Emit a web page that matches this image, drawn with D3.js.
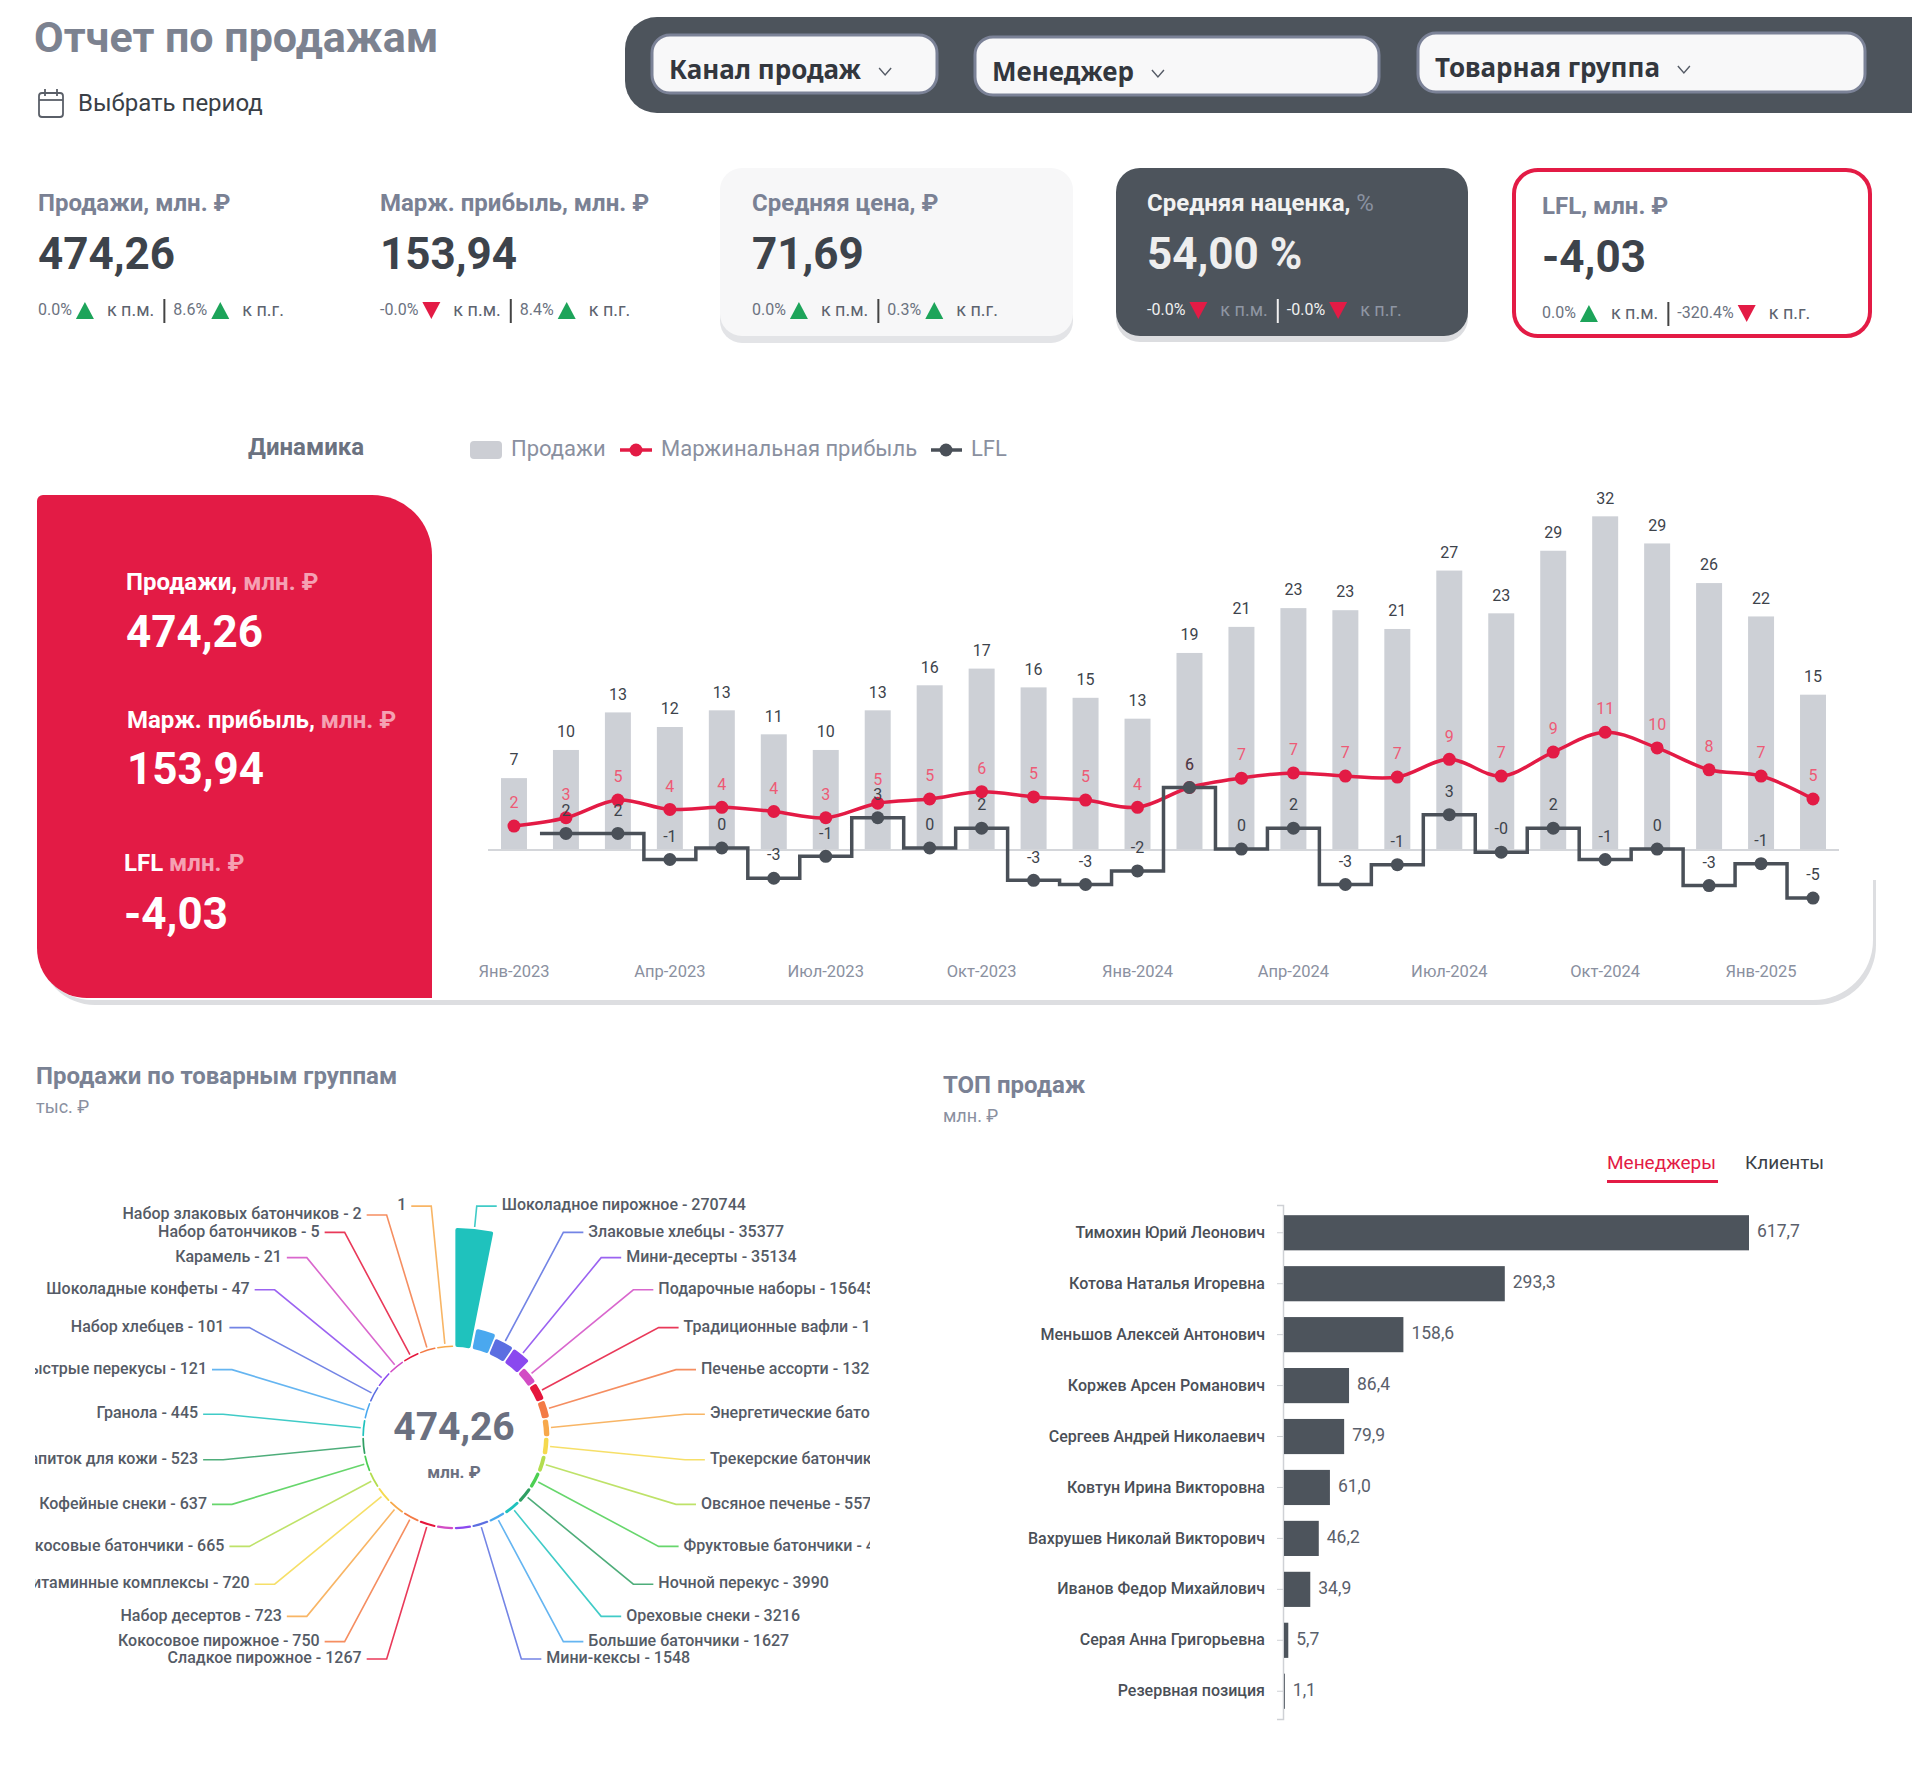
<!DOCTYPE html>
<html>
<head>
<meta charset="utf-8">
<script src="https://cdn.jsdelivr.net/npm/d3@7"></script>
<style>
  body { margin: 0; background: #fff; }
  svg { display: block; font-family: Roboto, sans-serif; }
</style>
</head>
<body>
<svg id="page" width="1920" height="1769"></svg>
<script>
// ---- data ----
var filterLabels = ["Канал продаж", "Менеджер", "Товарная группа"];

var kpiLabels = ["Продажи, млн. ₽", "Марж. прибыль, млн. ₽", "Средняя цена, ₽", "Средняя наценка,", "LFL, млн. ₽"];
var kpiValues = ["474,26", "153,94", "71,69", "54,00 %", "-4,03"];
var kpiMoM = ["0.0%", "-0.0%", "0.0%", "-0.0%", "0.0%"];
var kpiMoMDir = ["up", "down", "up", "down", "up"];
var kpiYoY = ["8.6%", "8.4%", "0.3%", "-0.0%", "-320.4%"];
var kpiYoYDir = ["up", "up", "up", "down", "down"];

var months = ["Янв-2023","Фев-2023","Мар-2023","Апр-2023","Май-2023","Июн-2023","Июл-2023","Авг-2023","Сен-2023","Окт-2023","Ноя-2023","Дек-2023",
              "Янв-2024","Фев-2024","Мар-2024","Апр-2024","Май-2024","Июн-2024","Июл-2024","Авг-2024","Сен-2024","Окт-2024","Ноя-2024","Дек-2024",
              "Янв-2025","Фев-2025"];
var sales  = [6.9, 9.6, 13.2, 11.8, 13.4, 11.1, 9.6, 13.4, 15.8, 17.4, 15.6, 14.6, 12.6, 18.9, 21.4, 23.2, 23.0, 21.2, 26.8, 22.7, 28.7, 32.0, 29.4, 25.6, 22.4, 14.9];
var margin = [2.3, 3.1, 4.8, 3.9, 4.1, 3.7, 3.1, 4.5, 4.9, 5.6, 5.1, 4.8, 4.1, 6.0, 6.9, 7.4, 7.1, 7.0, 8.7, 7.1, 9.4, 11.3, 9.8, 7.7, 7.1, 4.9];
var lfl    = [null, 1.6, 1.6, -0.9, 0.2, -2.7, -0.6, 3.1, 0.2, 2.1, -2.9, -3.3, -2.0, 6.0, 0.1, 2.1, -3.3, -1.4, 3.4, -0.2, 2.1, -0.9, 0.1, -3.4, -1.3, -4.6];

var groupNames = ["Шоколадное пирожное", "Протеиновые батончики", "Злаковые хлебцы", "Мини-десерты", "Подарочные наборы",
                  "Традиционные вафли", "Печенье ассорти", "Энергетические батончики", "Трекерские батончики", "Овсяное печенье",
                  "Фруктовые батончики", "Ночной перекус", "Ореховые снеки", "Большие батончики", "Мини-кексы",
                  "Мюсли", "Крекеры", "Сладкое пирожное", "Кокосовое пирожное", "Набор десертов",
                  "Витаминные комплексы", "Кокосовые батончики", "Кофейные снеки", "Напиток для кожи", "Гранола",
                  "Быстрые перекусы", "Набор хлебцев", "Шоколадные конфеты", "Карамель", "Набор батончиков",
                  "Набор злаковых батончиков", ""];
var groupValues = [270744, 43800, 35377, 35134, 15645, 14380, 13240, 9000, 7000, 5573,
                   4500, 3990, 3216, 1627, 1548, 1740, 1718, 1267, 750, 723,
                   720, 665, 637, 523, 445, 121, 101, 47, 21, 5, 2, 1];
var hiddenGroupLabels = [1, 15, 16];
var groupPalette = ["#1fc2bd", "#4aa8ef", "#5b6ee1", "#8a48ef", "#d24cc4", "#e5163c",
                    "#f37a45", "#f7a84a", "#f5d94e", "#b3dd4f", "#4ccf52", "#2f9f63"];

var managers = ["Тимохин Юрий Леонович", "Котова Наталья Игоревна", "Меньшов Алексей Антонович", "Коржев Арсен Романович",
                "Сергеев Андрей Николаевич", "Ковтун Ирина Викторовна", "Вахрушев Николай Викторович", "Иванов Федор Михайлович",
                "Серая Анна Григорьевна", "Резервная позиция"];
var managerSales = [617.7, 293.3, 158.6, 86.4, 79.9, 61.0, 46.2, 34.9, 5.7, 1.1];

// ---- helpers ----
var RED = "#e31b45", DARK = "#4d545c", GREEN = "#1da45a";
var svg = d3.select("#page");

function roundRect(x, y, w, h, r) { // r = [tl, tr, br, bl]
  return "M" + (x + r[0]) + "," + y +
    "H" + (x + w - r[1]) + (r[1] ? "A" + r[1] + "," + r[1] + " 0 0 1 " + (x + w) + "," + (y + r[1]) : "") +
    "V" + (y + h - r[2]) + (r[2] ? "A" + r[2] + "," + r[2] + " 0 0 1 " + (x + w - r[2]) + "," + (y + h) : "") +
    "H" + (x + r[3]) + (r[3] ? "A" + r[3] + "," + r[3] + " 0 0 1 " + x + "," + (y + h - r[3]) : "") +
    "V" + (y + r[0]) + (r[0] ? "A" + r[0] + "," + r[0] + " 0 0 1 " + (x + r[0]) + "," + y : "") + "Z";
}

function txt(g, x, y, s, size, color, weight) {
  return g.append("text").attr("x", x).attr("y", y).attr("dominant-baseline", "middle")
    .attr("font-size", size).attr("fill", color).attr("font-weight", weight || 400).text(s);
}

function roundLabel(v) {
  return (v < 0 ? "-" : "") + Math.round(Math.abs(v));
}

// ---- header ----
txt(svg, 34, 41, "Отчет по продажам", 43, "#7c8290", 700);

var cal = svg.append("g").attr("fill", "none").attr("stroke", "#5a5f68").attr("stroke-width", 1.8);
cal.append("rect").attr("x", 39).attr("y", 93).attr("width", 24).attr("height", 24).attr("rx", 3);
cal.append("line").attr("x1", 39).attr("x2", 63).attr("y1", 100).attr("y2", 100);
cal.append("line").attr("x1", 45).attr("x2", 45).attr("y1", 89).attr("y2", 96);
cal.append("line").attr("x1", 57).attr("x2", 57).attr("y1", 89).attr("y2", 96);
txt(svg, 78, 105, "Выбрать период", 24, "#3a3f47");

// filter bar
svg.append("path").attr("d", roundRect(625, 17, 1287, 96, [32, 0, 0, 32])).attr("fill", DARK);
var filterBoxes = [[652, 35, 285, 58], [975, 37, 404, 58], [1418, 33, 447, 59]];
filterLabels.forEach(function (lab, i) {
  var b = filterBoxes[i];
  svg.append("rect").attr("x", b[0]).attr("y", b[1]).attr("width", b[2]).attr("height", b[3]).attr("rx", 18)
    .attr("fill", "#f8f8f9").attr("stroke", "#7b8297").attr("stroke-width", 3);
  var t = txt(svg, b[0] + 17, b[1] + 37, lab, 26, "#33373e", 700).attr("font-family", "'Noto Sans', sans-serif");
  var cx = b[0] + 17 + t.node().getComputedTextLength() + 18;
  var cy = b[1] + 37;
  svg.append("path").attr("d", "M" + cx + "," + (cy - 4) + "L" + (cx + 6) + "," + (cy + 3) + "L" + (cx + 12) + "," + (cy - 4))
    .attr("fill", "none").attr("stroke", "#555b66").attr("stroke-width", 1.4);
});

// ---- KPI cards ----
svg.append("path").attr("d", roundRect(720, 175, 353, 168, [22, 22, 22, 22])).attr("fill", "#e3e4e7");
svg.append("path").attr("d", roundRect(720, 168, 353, 168, [22, 22, 22, 22])).attr("fill", "#f7f7f8");
svg.append("path").attr("d", roundRect(1116, 174, 352, 168, [24, 24, 24, 24])).attr("fill", "#dcdde0");
svg.append("path").attr("d", roundRect(1116, 168, 352, 168, [24, 24, 24, 24])).attr("fill", DARK);
svg.append("path").attr("d", roundRect(1514, 170, 356, 166, [24, 24, 24, 24])).attr("fill", "#fff")
  .attr("stroke", RED).attr("stroke-width", 4);

var kpiX = [38, 380, 752, 1147, 1542];
var kpiY = [0, 0, 0, 0, 3];

function triangle(g, cx, cy, dir) {
  var d = dir === "up"
    ? "M" + (cx - 9) + "," + (cy + 8) + "L" + cx + "," + (cy - 9) + "L" + (cx + 9) + "," + (cy + 8) + "Z"
    : "M" + (cx - 9) + "," + (cy - 9) + "L" + cx + "," + (cy + 8) + "L" + (cx + 9) + "," + (cy - 9) + "Z";
  g.append("path").attr("d", d).attr("fill", dir === "up" ? GREEN : RED);
}

kpiLabels.forEach(function (lab, i) {
  var dark = i === 3;
  var x0 = kpiX[i], dy = kpiY[i];
  var g = svg.append("g");
  var l = txt(g, x0, 205 + dy, lab, 24, dark ? "#f2f2f2" : "#7a8194", 700);
  if (dark) l.append("tspan").attr("fill", "#8a91a0").attr("font-weight", 400).text(" %");
  txt(g, x0, 257 + dy, kpiValues[i], 44, dark ? "#eeeeee" : "#3d434b", 700);

  var pctColor = dark ? "#f0f0f0" : "#6b7280";
  var subColor = dark ? "#8f96a3" : "#5d636e";
  var cx = x0, cy = 311 + dy;
  var parts = [
    { t: kpiMoM[i], s: 16, c: pctColor }, { tri: kpiMoMDir[i] }, { t: "к п.м.", s: 18, c: subColor },
    { sep: true },
    { t: kpiYoY[i], s: 16, c: pctColor }, { tri: kpiYoYDir[i] }, { t: "к п.г.", s: 18, c: subColor }
  ];
  parts.forEach(function (p) {
    if (p.tri) {
      triangle(g, cx + 13, cy, p.tri);
      cx += 35;
    } else if (p.sep) {
      g.append("line").attr("x1", cx + 1).attr("x2", cx + 1).attr("y1", cy - 12).attr("y2", cy + 12)
        .attr("stroke", dark ? "#f0f0f0" : "#444").attr("stroke-width", 2);
      cx += 10;
    } else {
      var t = txt(g, cx, cy, p.t, p.s, p.c);
      cx += t.node().getComputedTextLength() + (p.s === 18 ? 9 : 0);
    }
  });
});

// ---- Dynamics chart ----
txt(svg, 248, 449, "Динамика", 24, "#6b7280", 700);
var leg = svg.append("g");
leg.append("rect").attr("x", 470).attr("y", 441).attr("width", 32).attr("height", 18).attr("rx", 4).attr("fill", "#ccced4");
txt(leg, 511, 450, "Продажи", 22, "#8a90a0");
leg.append("line").attr("x1", 620).attr("x2", 652).attr("y1", 450).attr("y2", 450).attr("stroke", RED).attr("stroke-width", 3.5);
leg.append("circle").attr("cx", 636).attr("cy", 450).attr("r", 6.5).attr("fill", RED);
txt(leg, 661, 450, "Маржинальная прибыль", 22, "#8a90a0");
leg.append("line").attr("x1", 931).attr("x2", 962).attr("y1", 450).attr("y2", 450).attr("stroke", "#4a5058").attr("stroke-width", 3.5);
leg.append("circle").attr("cx", 946).attr("cy", 450).attr("r", 6.5).attr("fill", "#4a5058");
txt(leg, 971, 450, "LFL", 22, "#8a90a0");

// card + shadow
svg.append("path").attr("d", roundRect(40, 880, 1836, 125, [0, 0, 60, 55])).attr("fill", "#dddee1");
svg.append("path").attr("d", roundRect(37, 495, 1836, 505, [0, 0, 60, 55])).attr("fill", "#fff");
svg.append("path").attr("d", roundRect(37, 495, 395, 503, [6, 60, 0, 50])).attr("fill", RED);

var red = svg.append("g");
txt(red, 126, 584, "Продажи,", 24, "#fff", 700).append("tspan").attr("fill", "#f5a1b3").text(" млн. ₽");
txt(red, 126, 635, "474,26", 44, "#fff", 700);
txt(red, 127, 722, "Марж. прибыль,", 24, "#fff", 700).append("tspan").attr("fill", "#f5a1b3").text(" млн. ₽");
txt(red, 127, 772, "153,94", 44, "#fff", 700);
txt(red, 124, 865, "LFL", 24, "#fff", 700).append("tspan").attr("fill", "#f5a1b3").text(" млн. ₽");
txt(red, 124, 917, "-4,03", 44, "#fff", 700);

var x = d3.scaleBand().domain(months).range([488, 1839]).paddingInner(0.5).paddingOuter(0.25);
var y = d3.scaleLinear().domain([-10, 36]).range([954.4, 474.6]);
var bw = x.bandwidth();
var cxm = function (m) { return x(m) + bw / 2; };

var chart = svg.append("g");

chart.append("g").selectAll("text").data(months.filter(function (m, i) { return i % 3 === 0; })).join("text")
  .attr("x", cxm).attr("y", 973).attr("text-anchor", "middle").attr("dominant-baseline", "middle")
  .attr("font-size", 16.5).attr("fill", "#8a90a0").text(function (d) { return d; });

chart.append("g").selectAll("rect").data(months).join("rect")
  .attr("x", function (m) { return x(m); }).attr("width", bw)
  .attr("y", function (m, i) { return y(sales[i]); })
  .attr("height", function (m, i) { return y(0) - y(sales[i]); })
  .attr("fill", "#cdd0d6");

chart.append("line").attr("x1", x.range()[0]).attr("x2", x.range()[1]).attr("y1", y(0)).attr("y2", y(0))
  .attr("stroke", "#d4d6da").attr("stroke-width", 2);

chart.append("g").selectAll("text").data(months).join("text")
  .attr("x", cxm).attr("y", function (m, i) { return y(sales[i]) - 17; })
  .attr("text-anchor", "middle").attr("dominant-baseline", "middle")
  .attr("font-size", 16).attr("fill", "#3d434b").text(function (m, i) { return roundLabel(sales[i]); });

// margin line
var marginPts = months.map(function (m, i) { return [cxm(m), y(margin[i]), margin[i]]; });
chart.append("path").datum(marginPts)
  .attr("d", d3.line().x(function (d) { return d[0]; }).y(function (d) { return d[1]; }).curve(d3.curveCatmullRom.alpha(0.5)))
  .attr("fill", "none").attr("stroke", RED).attr("stroke-width", 3.5);
chart.append("g").selectAll("circle").data(marginPts).join("circle")
  .attr("cx", function (d) { return d[0]; }).attr("cy", function (d) { return d[1]; }).attr("r", 6.5).attr("fill", RED);
chart.append("g").selectAll("text").data(marginPts).join("text")
  .attr("x", function (d) { return d[0]; }).attr("y", function (d) { return d[1] - 22; })
  .attr("text-anchor", "middle").attr("dominant-baseline", "middle")
  .attr("font-size", 16).attr("fill", "#ee5a75").text(function (d) { return roundLabel(d[2]); });

// LFL step line
var lflPts = months.map(function (m, i) { return [cxm(m), lfl[i] == null ? null : y(lfl[i]), lfl[i]]; })
  .filter(function (d) { return d[2] != null; });
var lflPath = [[lflPts[0][0] - x.step() / 2, lflPts[0][1]]].concat(lflPts);
chart.append("path").datum(lflPath)
  .attr("d", d3.line().x(function (d) { return d[0]; }).y(function (d) { return d[1]; }).curve(d3.curveStep))
  .attr("fill", "none").attr("stroke", "#4a5058").attr("stroke-width", 3.5);
chart.append("g").selectAll("circle").data(lflPts).join("circle")
  .attr("cx", function (d) { return d[0]; }).attr("cy", function (d) { return d[1]; }).attr("r", 6.5).attr("fill", "#4a5058");
chart.append("g").selectAll("text").data(lflPts).join("text")
  .attr("x", function (d) { return d[0]; }).attr("y", function (d) { return d[1] - 22; })
  .attr("text-anchor", "middle").attr("dominant-baseline", "middle")
  .attr("font-size", 16).attr("fill", "#3d434b").text(function (d) { return roundLabel(d[2]); });

// ---- product groups rose ----
txt(svg, 36, 1078, "Продажи по товарным группам", 24, "#7a8294", 700);
txt(svg, 36, 1108, "тыс. ₽", 18, "#8a90a0");

svg.append("clipPath").attr("id", "roseClip").append("rect")
  .attr("x", 35).attr("y", 1150).attr("width", 835).attr("height", 600);

var rose = svg.append("g").attr("clip-path", "url(#roseClip)")
  .append("g").attr("transform", "translate(454,1437)");

var groups = groupNames.map(function (n, i) { return { i: i, name: n, v: groupValues[i] }; });
var angle = d3.scaleBand().domain(d3.range(groups.length)).range([0, 2 * Math.PI]);
var rr = d3.scaleLinear().domain([0, d3.max(groupValues)]).range([91.5, 209]);
var color = function (i) { return groupPalette[i % groupPalette.length]; };

var arc = d3.arc().innerRadius(90)
  .outerRadius(function (d) { return rr(d.v); })
  .startAngle(function (d) { return angle(d.i); })
  .endAngle(function (d) { return angle(d.i) + angle.bandwidth(); })
  .padAngle(0.012).cornerRadius(2);

rose.append("g").selectAll("path").data(groups).join("path")
  .attr("d", arc).attr("fill", function (d) { return color(d.i); });

var labelled = groups.filter(function (d) { return hiddenGroupLabels.indexOf(d.i) < 0; });
labelled.forEach(function (d) {
  var a = angle(d.i) + angle.bandwidth() / 2;
  var r0 = rr(d.v) + 2, r1 = 232;
  var side = Math.sin(a) >= 0 ? 1 : -1;
  var p0 = [Math.sin(a) * r0, -Math.cos(a) * r0];
  var p1 = [Math.sin(a) * r1, -Math.cos(a) * r1];
  var p2 = [p1[0] + side * 20, p1[1]];
  rose.append("path").attr("d", d3.line()([p0, p1, p2]))
    .attr("fill", "none").attr("stroke", color(d.i)).attr("stroke-opacity", 0.85).attr("stroke-width", 1.6);
  rose.append("text").attr("x", p2[0] + side * 5).attr("y", p2[1])
    .attr("text-anchor", side > 0 ? "start" : "end").attr("dominant-baseline", "middle")
    .attr("font-size", 16).attr("font-weight", 500).attr("fill", "#555b66")
    .text(d.name ? d.name + " - " + d.v : String(d.v));
});

rose.append("text").attr("y", -7).attr("text-anchor", "middle").attr("dominant-baseline", "middle")
  .attr("font-size", 39).attr("font-weight", 700).attr("fill", "#6b7080").text("474,26");
rose.append("text").attr("y", 37).attr("text-anchor", "middle").attr("dominant-baseline", "middle")
  .attr("font-size", 17).attr("font-weight", 700).attr("fill", "#6b7080").text("млн. ₽");

// ---- top managers ----
txt(svg, 943, 1087, "ТОП продаж", 24, "#7a8194", 700);
txt(svg, 943, 1117, "млн. ₽", 18, "#8a90a0");
txt(svg, 1607, 1164, "Менеджеры", 19, RED);
svg.append("rect").attr("x", 1607).attr("y", 1180).attr("width", 111).attr("height", 3).attr("fill", RED);
txt(svg, 1745, 1164, "Клиенты", 19, "#3a3f47");

var bx = d3.scaleLinear().domain([0, d3.max(managerSales)]).range([1284, 1749]);
var by = d3.scaleBand().domain(managers).range([1205, 1719]).paddingInner(0.31).paddingOuter(0.2);
var topG = svg.append("g");

var yAxis = topG.append("g").attr("transform", "translate(1283,0)")
  .call(d3.axisLeft(by).tickSize(6).tickPadding(12));
yAxis.select(".domain").attr("stroke", "#cfd1d5").attr("stroke-width", 1.5);
yAxis.selectAll(".tick line").attr("stroke", "#cfd1d5");
yAxis.selectAll(".tick text").attr("font-family", "Roboto, sans-serif").attr("font-size", 16)
  .attr("font-weight", 500).attr("fill", "#4a4f57");

topG.append("g").selectAll("rect").data(managers).join("rect")
  .attr("x", bx(0)).attr("y", function (m) { return by(m); })
  .attr("width", function (m, i) { return bx(managerSales[i]) - bx(0); })
  .attr("height", by.bandwidth()).attr("fill", DARK);

topG.append("g").selectAll("text").data(managers).join("text")
  .attr("x", function (m, i) { return bx(managerSales[i]) + 8; })
  .attr("y", function (m) { return by(m) + by.bandwidth() / 2; })
  .attr("dominant-baseline", "middle").attr("font-size", 17.5).attr("fill", "#5a606b")
  .text(function (m, i) { return d3.format(".1f")(managerSales[i]).replace(".", ","); });
</script>
</body>
</html>
